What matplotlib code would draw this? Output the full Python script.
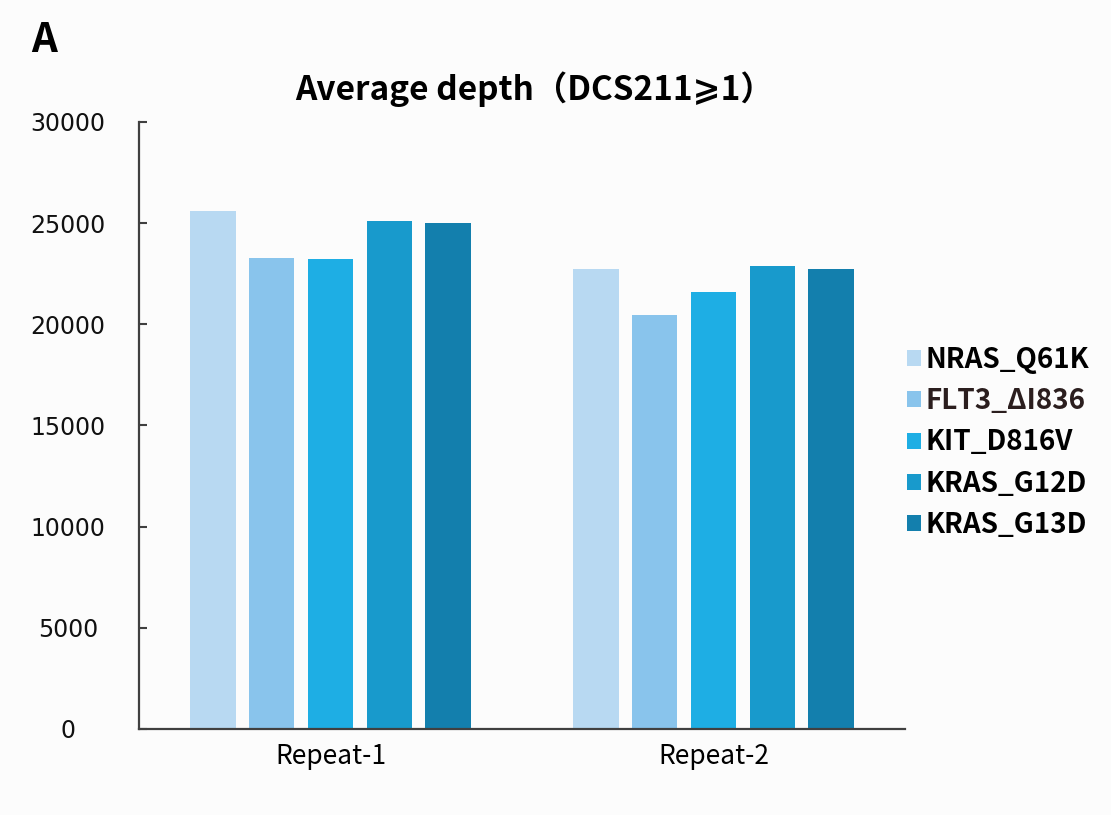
import matplotlib
matplotlib.use("Agg")
import matplotlib.pyplot as plt
import numpy as np
from matplotlib.patches import Patch

plt.rcParams['font.family'] = ['Noto Sans CJK SC', 'DejaVu Sans']

groups = ["Repeat-1", "Repeat-2"]
series = ["NRAS_Q61K", "FLT3_ΔI836", "KIT_D816V", "KRAS_G12D", "KRAS_G13D"]
values = {
    "NRAS_Q61K": [25600, 22750],
    "FLT3_ΔI836": [23280, 20470],
    "KIT_D816V": [23230, 21600],
    "KRAS_G12D": [25120, 22900],
    "KRAS_G13D": [25010, 22750],
}
colors = ["#B8D9F2", "#89C4EC", "#1EAEE4", "#189ACC", "#137FAD"]
yticks = [0, 5000, 10000, 15000, 20000, 25000, 30000]

bg = "#FCFCFC"
fig = plt.figure(figsize=(11.11, 8.15), dpi=100, facecolor=bg)
ax = fig.add_axes([139/1111, 86/815, (905-139)/1111, (729-122)/815], facecolor=bg)

x = np.arange(len(groups))
w = 0.12
step = 0.154
for i, s in enumerate(series):
    ax.bar(x + (i - 2) * step, values[s], width=w, color=colors[i], edgecolor='none')

ax.set_xlim(-0.5, 1.5)
ax.set_ylim(0, 30000)
ax.set_yticks(yticks)
ax.set_yticklabels([str(v) for v in yticks], fontsize=17, family='DejaVu Sans', color='#111111')
ax.set_xticks(x)
ax.set_xticklabels(groups, fontsize=19, fontweight='light')
ax.tick_params(axis='y', direction='in', length=6, width=1.5, color='#404040', pad=51)
ax.tick_params(axis='x', length=0, pad=10)
for lab in ax.get_yticklabels():
    lab.set_horizontalalignment('center')
for sp in ['top', 'right']:
    ax.spines[sp].set_visible(False)
for sp in ['left', 'bottom']:
    ax.spines[sp].set_color('#404040')
    ax.spines[sp].set_linewidth(1.6)

title = ax.set_title("Average depth（DCS211⩾1）", fontsize=24, fontweight='bold', pad=16)
title.set_x(0.516)

handles = [Patch(facecolor=colors[i], edgecolor='none', label=s) for i, s in enumerate(series)]
leg = ax.legend(handles=handles, loc='center left', bbox_to_anchor=(0.97, 0.472),
                frameon=False, handlelength=0.5, handleheight=0.5, handletextpad=0.15,
                labelspacing=0.48, prop={'size': 20, 'weight': 'bold'})
for t in leg.get_texts():
    if t.get_text().startswith("FLT3"):
        t.set_color("#2B1E1E")

fig.text(31/1111, 1 - 52/815, "A", fontsize=29, fontweight='bold', ha='left', va='baseline')

fig.savefig("out.png", dpi=100, facecolor=bg)
